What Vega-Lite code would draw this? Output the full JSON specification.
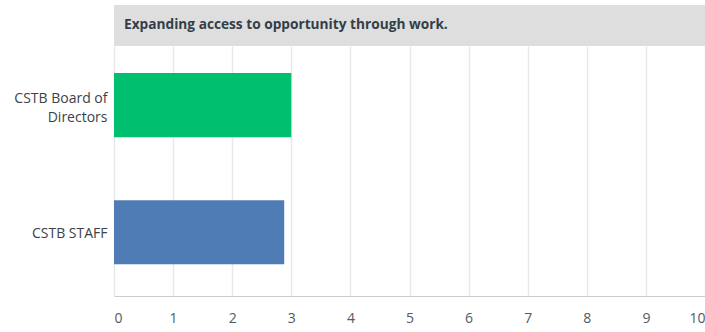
{
  "$schema": "https://vega.github.io/schema/vega-lite/v6.json",
  "padding": {"left": 0, "top": 5, "right": 0, "bottom": 0},
  "background": "white",
  "config": {
    "font": "Open Sans",
    "concat": {"spacing": 0}
  },
  "data": {
    "values": [
      {"group": "CSTB Board of Directors", "value": 3.0, "question": "Expanding access to opportunity through work."},
      {"group": "CSTB STAFF", "value": 2.88, "question": "Expanding access to opportunity through work."}
    ]
  },
  "vconcat": [
    {
      "width": 591,
      "height": 41,
      "view": {"fill": "#dedede", "stroke": null},
      "transform": [{"filter": "datum.group == 'CSTB STAFF'"}],
      "mark": {"type": "text", "align": "left", "baseline": "middle", "dx": 10, "dy": -1, "fontSize": 13.7, "fontWeight": "bold", "color": "#333e48"},
      "encoding": {
        "x": {"datum": 0, "type": "quantitative", "scale": {"domain": [0, 10]}, "axis": null},
        "y": {"field": "question", "type": "nominal", "axis": {"labels": false, "ticks": false, "domain": false, "title": null, "minExtent": 114, "maxExtent": 114}},
        "text": {"field": "question"}
      }
    },
    {
      "width": 591,
      "height": 250,
      "view": {"stroke": null},
      "mark": {"type": "bar"},
      "encoding": {
        "y": {
          "field": "group",
          "type": "nominal",
          "sort": ["CSTB Board of Directors", "CSTB STAFF"],
          "scale": {"paddingInner": 0.496, "paddingOuter": 0.232, "align": 0.46},
          "axis": {
            "title": null,
            "ticks": false,
            "domain": false,
            "labelFontSize": 14,
            "labelColor": "#3d4249",
            "labelPadding": 7,
            "labelLineHeight": 19,
            "labelLimit": 200,
            "labelOffset": {"condition": {"test": "datum.value == 'CSTB Board of Directors'", "value": -6}, "value": 2},
            "minExtent": 114,
            "maxExtent": 114,
            "labelExpr": "datum.value == 'CSTB Board of Directors' ? ['CSTB Board of', 'Directors'] : datum.value"
          }
        },
        "x": {
          "field": "value",
          "type": "quantitative",
          "scale": {"domain": [0, 10], "nice": false},
          "axis": {
            "title": null,
            "values": [0, 1, 2, 3, 4, 5, 6, 7, 8, 9, 10],
            "ticks": false,
            "labelPadding": 15,
            "labelFontSize": 14,
            "labelColor": "#555a60",
            "labelFlush": true,
            "domainColor": "#cccccc",
            "gridColor": "#e8e8e8",
            "gridWidth": 1.5
          }
        },
        "color": {
          "field": "group",
          "type": "nominal",
          "scale": {"domain": ["CSTB Board of Directors", "CSTB STAFF"], "range": ["#00bf6f", "#507cb6"]},
          "legend": null
        }
      }
    }
  ]
}
